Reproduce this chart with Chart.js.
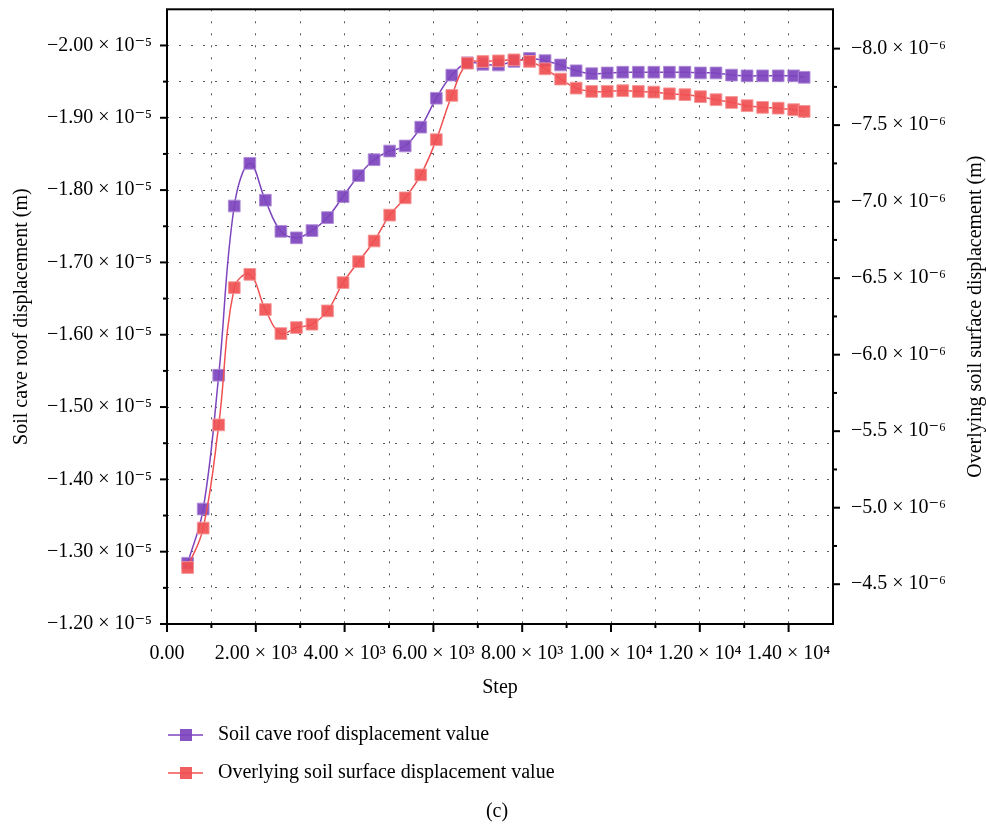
<!DOCTYPE html>
<html>
<head>
<meta charset="utf-8">
<script src="https://cdn.jsdelivr.net/npm/chart.js@4.4.0/dist/chart.umd.min.js"></script>
<style>
  html, body { margin: 0; padding: 0; background: #fff; }
  #wrap { width: 986px; height: 824px; position: relative; }
</style>
</head>
<body>
<div id="wrap"><canvas id="chart"></canvas></div>
<script>
// step of each sample
const steps = [465, 815, 1165, 1515, 1865, 2215, 2565, 2915, 3265, 3615,
  3965, 4315, 4665, 5015, 5365, 5715, 6065, 6415, 6765, 7115,
  7465, 7815, 8165, 8515, 8865, 9215, 9565, 9915, 10265, 10615,
  10965, 11315, 11665, 12015, 12365, 12715, 13065, 13415, 13765, 14115, 14350];

// soil cave roof displacement (m), left axis
const roofDisp = [-1.284e-5, -1.359e-5, -1.544e-5, -1.778e-5, -1.837e-5, -1.786e-5, -1.743e-5, -1.734e-5, -1.744e-5, -1.762e-5,
  -1.791e-5, -1.820e-5, -1.842e-5, -1.854e-5, -1.861e-5, -1.887e-5, -1.927e-5, -1.959e-5, -1.976e-5, -1.974e-5,
  -1.973e-5, -1.978e-5, -1.982e-5, -1.979e-5, -1.973e-5, -1.965e-5, -1.961e-5, -1.962e-5, -1.963e-5, -1.963e-5,
  -1.963e-5, -1.963e-5, -1.963e-5, -1.962e-5, -1.962e-5, -1.959e-5, -1.958e-5, -1.958e-5, -1.958e-5, -1.958e-5, -1.956e-5];

// overlying soil surface displacement (m), right axis
const surfaceDisp = [-4.609e-6, -4.867e-6, -5.541e-6, -6.438e-6, -6.525e-6, -6.295e-6, -6.138e-6, -6.177e-6, -6.199e-6, -6.286e-6,
  -6.471e-6, -6.608e-6, -6.743e-6, -6.912e-6, -7.025e-6, -7.175e-6, -7.405e-6, -7.694e-6, -7.905e-6, -7.916e-6,
  -7.920e-6, -7.927e-6, -7.916e-6, -7.868e-6, -7.801e-6, -7.742e-6, -7.720e-6, -7.720e-6, -7.725e-6, -7.720e-6,
  -7.716e-6, -7.705e-6, -7.699e-6, -7.686e-6, -7.666e-6, -7.648e-6, -7.627e-6, -7.616e-6, -7.611e-6, -7.601e-6, -7.590e-6];

// major ticks and their labels
const xTicks = [0, 2000, 4000, 6000, 8000, 10000, 12000, 14000];
const xTickLabels = ['0.00', '2.00 × 10³', '4.00 × 10³', '6.00 × 10³', '8.00 × 10³', '1.00 × 10⁴', '1.20 × 10⁴', '1.40 × 10⁴'];
const leftTicks = [-2.0e-5, -1.9e-5, -1.8e-5, -1.7e-5, -1.6e-5, -1.5e-5, -1.4e-5, -1.3e-5, -1.2e-5];
const leftTickLabels = ['−2.00 × 10⁻⁵', '−1.90 × 10⁻⁵', '−1.80 × 10⁻⁵', '−1.70 × 10⁻⁵', '−1.60 × 10⁻⁵',
  '−1.50 × 10⁻⁵', '−1.40 × 10⁻⁵', '−1.30 × 10⁻⁵', '−1.20 × 10⁻⁵'];
const rightTicks = [-8.0e-6, -7.5e-6, -7.0e-6, -6.5e-6, -6.0e-6, -5.5e-6, -5.0e-6, -4.5e-6];
const rightTickLabels = ['−8.0 × 10⁻⁶', '−7.5 × 10⁻⁶', '−7.0 × 10⁻⁶', '−6.5 × 10⁻⁶', '−6.0 × 10⁻⁶',
  '−5.5 × 10⁻⁶', '−5.0 × 10⁻⁶', '−4.5 × 10⁻⁶'];

const FONT = '"Liberation Serif", "DejaVu Serif", serif';
const PURPLE = 'rgb(125,68,189)';
const RED = 'rgb(240,80,82)';

// majors plus a minor tick half way between each pair
const withMinors = majors => {
  const out = [];
  majors.forEach((v, i) => {
    out.push({ value: v, major: true });
    if (i < majors.length - 1) out.push({ value: (v + majors[i + 1]) / 2, major: false });
  });
  return out;
};
const labelFor = (majors, labels) => v => {
  const i = majors.findIndex(m => Math.abs(m - v) < Math.abs(majors[1] - majors[0]) * 1e-3);
  return i >= 0 ? labels[i] : '';
};
const noPad = s => { s.paddingTop = 0; s.paddingBottom = 0; s.paddingLeft = 0; s.paddingRight = 0; };

const tickFont = { family: FONT, size: 20 };

const frameAndExtras = {
  id: 'frameAndExtras',
  afterDraw(chart) {
    const { ctx, chartArea: a, scales } = chart;
    ctx.save();
    ctx.strokeStyle = '#000';
    ctx.lineWidth = 2;
    ctx.strokeRect(a.left, a.top, a.right - a.left, a.bottom - a.top);

    const seg = (x1, y1, x2, y2) => { ctx.beginPath(); ctx.moveTo(x1, y1); ctx.lineTo(x2, y2); ctx.stroke(); };
    scales.x.ticks.forEach(t => {
      const px = scales.x.getPixelForValue(t.value);
      seg(px, a.bottom, px, a.bottom + (t.major ? 8 : 4));
    });
    scales.yL.ticks.forEach(t => {
      const py = scales.yL.getPixelForValue(t.value);
      seg(a.left - (t.major ? 7 : 4), py, a.left, py);
    });
    scales.yR.ticks.forEach(t => {
      const py = scales.yR.getPixelForValue(t.value);
      seg(a.right, py, a.right + (t.major ? 7 : 4), py);
    });

    // right axis title, reading bottom to top
    ctx.fillStyle = '#000';
    ctx.font = '20px ' + FONT;
    ctx.textAlign = 'center';
    ctx.textBaseline = 'middle';
    ctx.save();
    ctx.translate(976, (a.top + a.bottom) / 2);
    ctx.rotate(-Math.PI / 2);
    ctx.fillText('Overlying soil surface displacement (m)', 0, 0);
    ctx.restore();

    // legend
    [0, 1].forEach(r => {
      const ds = chart.data.datasets[r];
      const y = 735 + r * 38;
      ctx.strokeStyle = ds.borderColor;
      ctx.lineWidth = 1.6;
      seg(168, y, 203, y);
      ctx.fillStyle = ds.pointBackgroundColor;
      ctx.fillRect(180, y - 6, 12, 12);
      ctx.fillStyle = '#000';
      ctx.textAlign = 'left';
      ctx.fillText(ds.label, 218, y);
    });

    ctx.textAlign = 'center';
    ctx.fillText('(c)', 497, 812);
    ctx.restore();
  }
};

new Chart(document.getElementById('chart'), {
  type: 'line',
  data: {
    datasets: [
      {
        label: 'Soil cave roof displacement value',
        data: steps.map((s, i) => ({ x: s, y: roofDisp[i] })),
        yAxisID: 'yL',
        borderColor: PURPLE,
        borderWidth: 1.5,
        pointStyle: 'rect',
        pointRadius: 8.3,
        pointBackgroundColor: 'rgba(125,68,189,0.92)',
        pointBorderColor: 'rgba(175,140,215,0.9)',
        pointBorderWidth: 1,
        tension: 0.4,
        order: 1
      },
      {
        label: 'Overlying soil surface displacement value',
        data: steps.map((s, i) => ({ x: s, y: surfaceDisp[i] })),
        yAxisID: 'yR',
        borderColor: RED,
        borderWidth: 1.5,
        pointStyle: 'rect',
        pointRadius: 8.3,
        pointBackgroundColor: 'rgba(240,80,82,0.92)',
        pointBorderColor: 'rgba(245,150,150,0.9)',
        pointBorderWidth: 1,
        tension: 0.4,
        order: 0
      }
    ]
  },
  options: {
    responsive: true,
    maintainAspectRatio: false,
    animation: false,
    layout: { padding: { top: 7, bottom: 124, left: 0, right: 0 } },
    plugins: { legend: { display: false }, tooltip: { enabled: false } },
    scales: {
      x: {
        type: 'linear',
        position: 'bottom',
        min: 0,
        max: 15000,
        afterBuildTicks: s => { s.ticks = withMinors(xTicks.concat([16000])).filter(t => t.value <= 14000); },
        ticks: { autoSkip: false, maxRotation: 0, padding: 18, color: '#000', font: tickFont,
          callback: labelFor(xTicks, xTickLabels) },
        grid: { drawTicks: false, color: '#555', lineWidth: 1 },
        border: { display: false, dash: [2, 10] },
        title: { display: true, text: 'Step', color: '#000', font: tickFont, padding: { top: 0, bottom: 0 } },
        afterFit: s => { s.height = 76; noPad(s); }
      },
      yL: {
        type: 'linear',
        position: 'left',
        reverse: true,
        min: -2.05e-5,
        max: -1.2e-5,
        afterBuildTicks: s => { s.ticks = withMinors(leftTicks); },
        ticks: { autoSkip: false, padding: 15, color: '#000', font: tickFont,
          callback: labelFor(leftTicks, leftTickLabels) },
        grid: { drawTicks: false, color: '#555', lineWidth: 1 },
        border: { display: false, dash: [2, 10] },
        title: { display: true, text: 'Soil cave roof displacement (m)', color: '#000', font: tickFont,
          padding: { top: 10, bottom: 0 } },
        afterFit: s => { s.width = 167; noPad(s); }
      },
      yR: {
        type: 'linear',
        position: 'right',
        reverse: true,
        min: -8.257e-6,
        max: -4.24e-6,
        afterBuildTicks: s => { s.ticks = withMinors(rightTicks); },
        ticks: { autoSkip: false, padding: 18, color: '#000', font: tickFont,
          callback: labelFor(rightTicks, rightTickLabels) },
        grid: { drawOnChartArea: false, drawTicks: false },
        border: { display: false },
        afterFit: s => { s.width = 153; noPad(s); }
      }
    }
  },
  plugins: [frameAndExtras]
});
</script>
</body>
</html>
